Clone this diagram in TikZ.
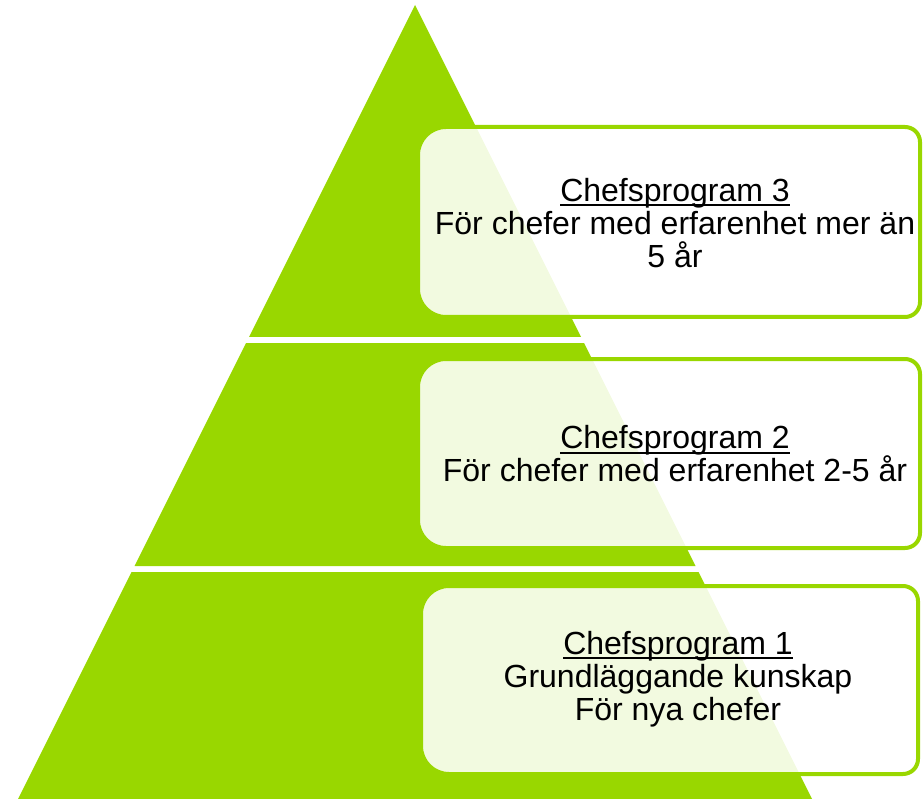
\documentclass[tikz,border=0pt]{standalone}
\usepackage{fontspec}
\setmainfont{Liberation Sans}
\definecolor{pyramidgreen}{RGB}{153,215,0}
\newsavebox{\titlebox}
\newcommand{\progtitle}[1]{\sbox{\titlebox}{#1}\rlap{\rule[-5pt]{\wd\titlebox}{2pt}}\usebox{\titlebox}}
\newcommand{\progframe}[1]{\draw[framestyle] ([xshift=28pt]#1.north west) -- ([xshift=-15pt]#1.north east)
  arc[start angle=90,end angle=0,radius=15pt] -- ([yshift=15pt]#1.south east)
  arc[start angle=0,end angle=-90,radius=15pt] -- ([xshift=28pt]#1.south west)
  arc[start angle=-90,end angle=-180,radius=28pt] -- ([yshift=-28pt]#1.north west)
  arc[start angle=180,end angle=90,radius=28pt] -- cycle;}
\tikzset{
  tierfill/.style={fill=pyramidgreen},
  progbox/.style={inner sep=0pt, outer sep=0pt},
  framestyle/.style={draw=pyramidgreen, line width=4pt, fill=white, fill opacity=0.88},
  progtext/.style={align=center, inner sep=0pt, font=\fontsize{32}{33}\selectfont}
}

\begin{document}
\begin{tikzpicture}[x=1pt,y=-1pt]
\useasboundingbox (0,0) rectangle (923,799);
%pyramid
\fill[tierfill] (415,5) -- (581,337) -- (249,337) -- cycle;
\fill[tierfill] (246,343) -- (584,343) -- (695.5,566) -- (134.5,566) -- cycle;
\fill[tierfill] (131.5,572) -- (698.5,572) -- (812,799) -- (18,799) -- cycle;
%boxes
\node[progbox, minimum width=502pt, minimum height=190pt] (box3) at (669,222) {};
\node[progbox, minimum width=502pt, minimum height=189pt] (box2) at (669,453.5) {};
\node[progbox, minimum width=497pt, minimum height=188pt] (box1) at (669.5,680) {};
\progframe{box3}
\progframe{box2}
\progframe{box1}
%texts
\node[progtext] (prog3) at (675,223) {\progtitle{Chefsprogram 3}\\För chefer med erfarenhet mer än\\5 år};
\node[progtext] (prog2) at (675,454) {\progtitle{Chefsprogram 2}\\För chefer med erfarenhet 2-5 år};
\node[progtext] (prog1) at (678,679) {\progtitle{Chefsprogram 1}\\Grundläggande kunskap\\För nya chefer};
\end{tikzpicture}
\end{document}
